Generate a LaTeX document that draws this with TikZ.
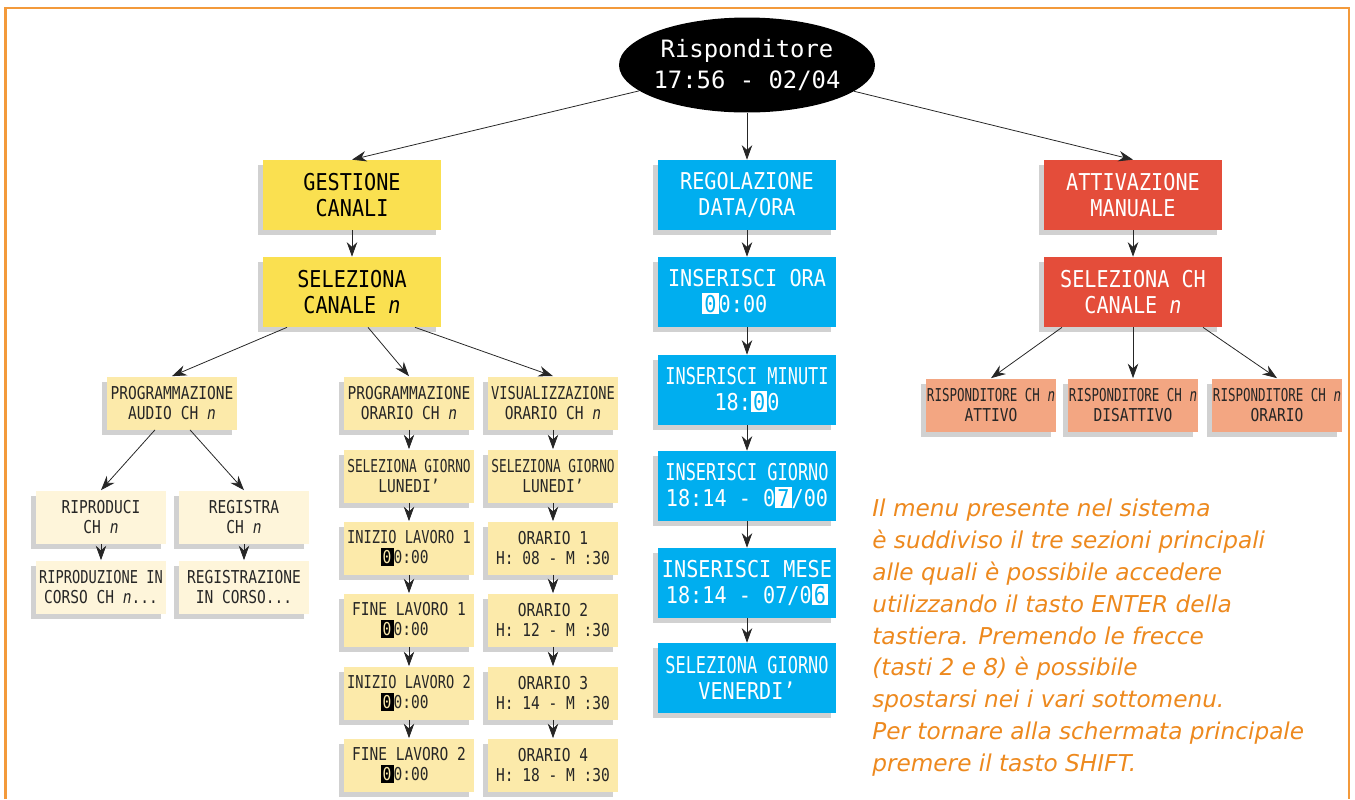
\documentclass[tikz,border=0pt]{standalone}
\usepackage{fontspec}
\usepackage{graphicx}
\setmainfont{DejaVu Sans}
\newfontfamily\lcd[FakeStretch=0.87]{DejaVu Sans Mono}
\newfontfamily\lcdsmall[FakeStretch=0.82]{DejaVu Sans Mono}
\newfontfamily\lcdwide{DejaVu Sans Mono}
\usetikzlibrary{calc,shapes.geometric,shadows,arrows.meta}

\definecolor{frameorange}{RGB}{243,154,59}
\definecolor{noteorange}{RGB}{237,137,30}
\definecolor{gestyellow}{RGB}{250,224,80}
\definecolor{progyellow}{RGB}{252,234,170}
\definecolor{riprcream}{RGB}{254,245,218}
\definecolor{regblue}{RGB}{0,174,239}
\definecolor{attred}{RGB}{228,77,58}
\definecolor{rispsalmon}{RGB}{243,166,130}

\newcommand\sq[2][0.88]{\scalebox{#1}[1]{#2}}
\newcommand\hlw[1]{{\setlength{\fboxsep}{1.2pt}\colorbox{white}{\textcolor{regblue}{#1}}}}
\newcommand\hlk[1]{{\setlength{\fboxsep}{1.2pt}\colorbox{black}{\textcolor{progyellow}{#1}}}}

\tikzset{
  menu/.style={rectangle, inner sep=0pt, align=center,
    drop shadow={shadow xshift=-0.1cm, shadow yshift=-0.1cm, fill=black, opacity=0.18}},
  bigbox/.style={menu, minimum width=3.56cm, minimum height=1.4cm,
    font=\lcd\fontsize{13.2}{14.4}\selectfont},
  smallbox/.style={menu, minimum width=2.6cm, minimum height=1.06cm,
    font=\lcdsmall\fontsize{10.1}{11.3}\selectfont, text=black!85},
  arr/.style={-{Stealth[length=2.9mm,width=2.1mm]}, line width=0.45pt, black!85},
}

\begin{document}
\begin{tikzpicture}[x=0.02cm, y=-0.02cm]
  \useasboundingbox (0,0) rectangle (1355,799);%
  \draw[frameorange, line width=1.4pt] (5.5,799) -- (5.5,8) -- (1349,8) -- (1349,799);%

  % root
  \node[ellipse, fill=black, text=white, minimum width=5cm, minimum height=1.9cm,
    inner xsep=-0.06cm, inner ysep=0pt, align=center, font=\lcdwide\fontsize{13.6}{18.1}\selectfont]
    (risp) at (747,65) {Risponditore\\17:56 - 02/04};%

  % gestione canali
  \node[bigbox, fill=gestyellow] (gest) at (352,195) {GESTIONE\\CANALI};%
  \node[bigbox, fill=gestyellow] (selcan) at (352,292) {SELEZIONA\\CANALE \textit{n}};%
  \node[smallbox, fill=progyellow] (progaud) at (172,403) {PROGRAMMAZIONE\\AUDIO CH \textit{n}};%
  \node[smallbox, fill=riprcream] (ripr) at (101,517) {RIPRODUCI\\CH \textit{n}};%
  \node[smallbox, fill=riprcream] (regis) at (244,517) {REGISTRA\\CH \textit{n}};%
  \node[smallbox, fill=riprcream] (riprcor) at (101,587) {\sq[0.94]{RIPRODUZIONE IN}\\CORSO CH \textit{n}...};%
  \node[smallbox, fill=riprcream] (regcor) at (244,587) {REGISTRAZIONE\\IN CORSO...};%

  \node[smallbox, fill=progyellow] (progora) at (409,403) {PROGRAMMAZIONE\\ORARIO CH \textit{n}};%
  \node[smallbox, fill=progyellow] (selgioa) at (409,476) {\sq{SELEZIONA GIORNO}\\LUNEDI’};%
  \node[smallbox, fill=progyellow] (inia) at (409,548) {\sq[0.94]{INIZIO LAVORO 1}\\\hlk{0}0:00\phantom{0}};%
  \node[smallbox, fill=progyellow] (fina) at (409,620) {FINE LAVORO 1\\\hlk{0}0:00\phantom{0}};%
  \node[smallbox, fill=progyellow] (inib) at (409,693) {\sq[0.94]{INIZIO LAVORO 2}\\\hlk{0}0:00\phantom{0}};%
  \node[smallbox, fill=progyellow] (finb) at (409,765) {FINE LAVORO 2\\\hlk{0}0:00\phantom{0}};%

  \node[smallbox, fill=progyellow] (visora) at (553,403) {\sq[0.94]{VISUALIZZAZIONE}\\ORARIO CH \textit{n}};%
  \node[smallbox, fill=progyellow] (selgiob) at (553,476) {\sq{SELEZIONA GIORNO}\\LUNEDI’};%
  \node[smallbox, fill=progyellow] (ora) at (553,548) {ORARIO 1\\H: 08 - M :30};%
  \node[smallbox, fill=progyellow] (orb) at (553,620) {ORARIO 2\\H: 12 - M :30};%
  \node[smallbox, fill=progyellow] (orc) at (553,693) {ORARIO 3\\H: 14 - M :30};%
  \node[smallbox, fill=progyellow] (ord) at (553,765) {ORARIO 4\\H: 18 - M :30};%

  % regolazione data/ora
  \node[bigbox, fill=regblue, text=white] (regol) at (747,195) {REGOLAZIONE\\DATA/ORA};%
  \node[bigbox, fill=regblue, text=white] (insora) at (747,292) {INSERISCI ORA\\\hlw{0}0:00\phantom{00}};%
  \node[bigbox, fill=regblue, text=white] (insmin) at (747,390) {\sq[0.84]{INSERISCI MINUTI}\\18:\hlw{0}0};%
  \node[bigbox, fill=regblue, text=white] (insgio) at (747,486) {\sq[0.84]{INSERISCI GIORNO}\\18:14 - 0\hlw{7}/00};%
  \node[bigbox, fill=regblue, text=white] (insmes) at (747,583) {INSERISCI MESE\\18:14 - 07/0\hlw{6}};%
  \node[bigbox, fill=regblue, text=white] (selven) at (747,678) {\sq[0.84]{SELEZIONA GIORNO}\\VENERDI’};%

  % attivazione manuale
  \node[bigbox, fill=attred, text=white] (attiv) at (1133,195) {ATTIVAZIONE\\MANUALE};%
  \node[bigbox, fill=attred, text=white] (selch) at (1133,292) {SELEZIONA CH\\CANALE \textit{n}};%
  \node[smallbox, fill=rispsalmon] (ratt) at (991,405) {\sq[0.86]{RISPONDITORE CH \textit{n}}\\ATTIVO};%
  \node[smallbox, fill=rispsalmon] (rdis) at (1133,405) {\sq[0.86]{RISPONDITORE CH \textit{n}}\\DISATTIVO};%
  \node[smallbox, fill=rispsalmon] (rora) at (1277,405) {\sq[0.86]{RISPONDITORE CH \textit{n}}\\ORARIO};%

  % nota
  \node[anchor=north west, align=left, inner sep=0pt, text=noteorange,
    font=\itshape\fontsize{13.2}{18.1}\selectfont] (nota) at (872,499)
    {Il menu presente nel sistema\\
     è suddiviso il tre sezioni principali\\
     alle quali è possibile accedere\\
     utilizzando il tasto ENTER della\\
     tastiera. Premendo le frecce\\
     (tasti 2 e 8) è possibile\\
     spostarsi nei i vari sottomenu.\\
     Per tornare alla schermata principale\\
     premere il tasto SHIFT.};%

  % frecce
  \draw[arr] (risp) -- (gest.north);%
  \draw[arr] (risp) -- (attiv.north);%
  \foreach \a/\b in {risp/regol, gest/selcan, regol/insora, insora/insmin, insmin/insgio,
      insgio/insmes, insmes/selven, attiv/selch, selch/rdis, ripr/riprcor, regis/regcor,
      progora/selgioa, selgioa/inia, inia/fina, fina/inib, inib/finb,
      visora/selgiob, selgiob/ora, ora/orb, orb/orc, orc/ord}
    \draw[arr] (\a) -- (\b);%
  \draw[arr] ($(selcan.south)+(-65,0)$) -- (progaud.north);%
  \draw[arr] ($(selcan.south)+(16,0)$) -- (progora.north);%
  \draw[arr] ($(selcan.south)+(63,0)$) -- (visora.north);%
  \draw[arr] ($(progaud.south)+(-17,0)$) -- (ripr.north);%
  \draw[arr] ($(progaud.south)+(18,0)$) -- (regis.north);%
  \draw[arr] ($(selch.south)+(-71,0)$) -- (ratt.north);%
  \draw[arr] ($(selch.south)+(70,0)$) -- (rora.north);%
\end{tikzpicture}
\end{document}
